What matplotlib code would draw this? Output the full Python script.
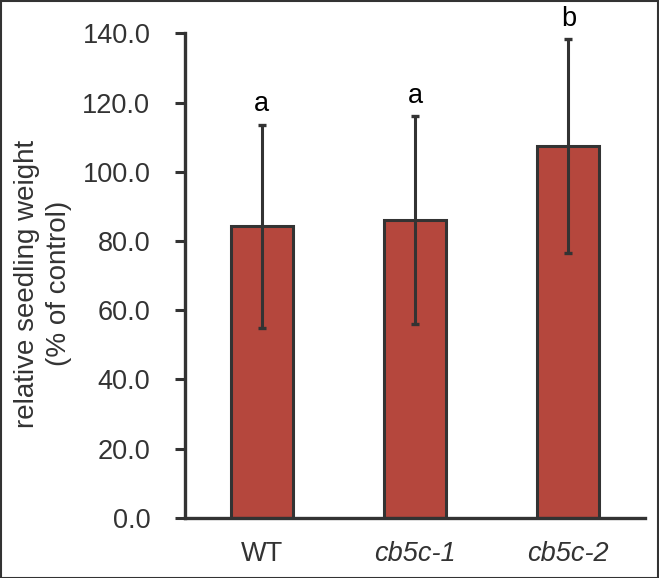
import matplotlib
matplotlib.use("Agg")
import matplotlib.pyplot as plt
from matplotlib.patches import Rectangle

categories = ["WT", "cb5c-1", "cb5c-2"]
means = [84.2, 86.0, 107.4]
errors = [29.4, 30.0, 31.0]
letters = ["a", "a", "b"]
yticks = [0, 20, 40, 60, 80, 100, 120, 140]
ytick_labels = ["0.0", "20.0", "40.0", "60.0", "80.0", "100.0", "120.0", "140.0"]

plt.rcParams['font.family'] = ['Liberation Sans', 'DejaVu Sans']
W, H = 659, 578
fig = plt.figure(figsize=(W / 100, H / 100), dpi=100)
ax = fig.add_axes([185 / W, 1 - 517.7 / H, 460 / W, (517.7 - 33.3) / H])

dark = "#333333"
x = list(range(len(categories)))
ax.bar(x, means, width=0.405, color="#B5473D", edgecolor=dark, linewidth=2.2, zorder=2)
ax.errorbar(x, means, yerr=errors, fmt="none", ecolor=dark, elinewidth=2.2,
            capsize=2.6, capthick=2.4, zorder=3)
for xi, m, e, l in zip(x, means, errors, letters):
    ax.annotate(l, (xi, m + e), xytext=(0, 9.5), textcoords="offset points",
                ha="center", va="baseline", fontsize=19.5, color="black")

ax.set_xlim(-0.5, 2.5)
ax.set_ylim(0, 140)
ax.set_yticks(yticks)
ax.set_yticklabels(ytick_labels)
ax.set_xticks(x)
ax.set_xticklabels(categories)
for i, lab in enumerate(ax.get_xticklabels()):
    if i > 0:
        lab.set_style("italic")
ax.tick_params(axis="y", length=7, width=2.2, color=dark, labelsize=19.5, labelcolor="#333333", pad=18)
ax.tick_params(axis="x", length=0, labelsize=19.5, labelcolor="#333333", pad=17)
for s in ["top", "right"]:
    ax.spines[s].set_visible(False)
for s in ["left", "bottom"]:
    ax.spines[s].set_linewidth(2.4)
    ax.spines[s].set_color(dark)

fig.text(43 / W, 1 - 283.5 / H, "relative seedling weight\n(% of control)", fontsize=20,
         color="#333333", rotation=90, ha="center", va="center", multialignment="center",
         linespacing=1.3)

fig.patches.append(Rectangle((0.5 / W, 0.5 / H), 1 - 1.5 / W, 1 - 1.5 / H, transform=fig.transFigure,
                             fill=False, edgecolor="#333333", linewidth=1.5))

fig.savefig("out.png", dpi=100)
